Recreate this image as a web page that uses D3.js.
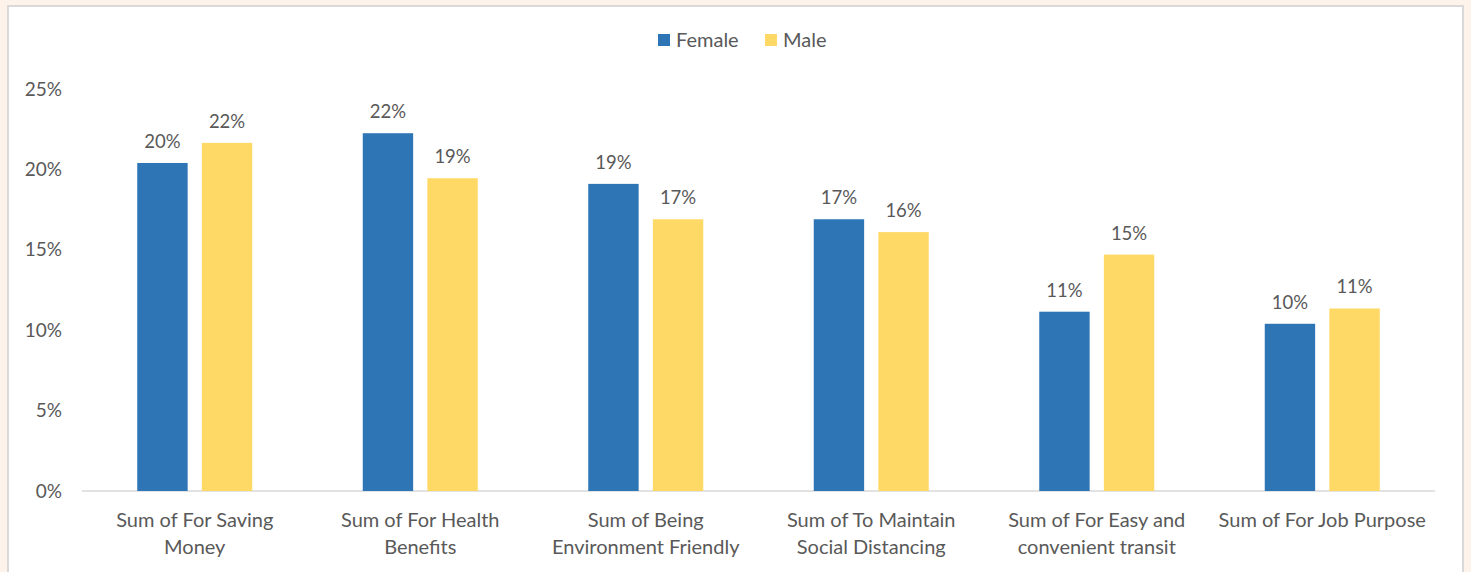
<!DOCTYPE html>
<html>
<head>
<meta charset="utf-8">
<script src="https://cdn.jsdelivr.net/npm/d3@7"></script>
<style>
  body { margin: 0; background: #fdf3ea; }
  svg { display: block; font-family: Lato, "Open Sans", sans-serif; }
</style>
</head>
<body>
<div id="chart"></div>
<script>
// Data
var categories = [
  ["Sum of For Saving", "Money"],
  ["Sum of For Health", "Benefits"],
  ["Sum of Being", "Environment Friendly"],
  ["Sum of To Maintain", "Social Distancing"],
  ["Sum of For Easy and", "convenient transit"],
  ["Sum of For Job Purpose"]
];
var seriesNames = ["Female", "Male"];
var femaleValues = [0.204, 0.2225, 0.191, 0.169, 0.1115, 0.104];
var maleValues = [0.2165, 0.1945, 0.169, 0.161, 0.147, 0.1135];
var yTicks = [0, 0.05, 0.10, 0.15, 0.20, 0.25];

var colors = { Female: "#2e75b6", Male: "#ffd966" };
var textColor = "#595959";

const width = 1471, height = 572;
const margin = { left: 82, right: 36, top: 89, bottom: 81 };
const plotW = width - margin.left - margin.right;
const plotH = height - margin.top - margin.bottom;

const svg = d3.select("#chart")
  .append("svg")
  .attr("width", width)
  .attr("height", height);

// chart box
svg.append("rect")
  .attr("x", 8).attr("y", 6)
  .attr("width", 1455).attr("height", 600)
  .attr("fill", "#ffffff")
  .attr("stroke", "#d9d9d9")
  .attr("stroke-width", 2);

const g = svg.append("g")
  .attr("transform", `translate(${margin.left},${margin.top})`);

const x0 = d3.scaleBand()
  .domain(d3.range(categories.length))
  .range([0, plotW])
  .padding(0);

const pairW = 115;
const x1 = d3.scaleBand()
  .domain(seriesNames)
  .range([0, pairW])
  .paddingInner(0.22);

const y = d3.scaleLinear()
  .domain([0, 0.25])
  .range([plotH, 0]);

// y axis labels
g.append("g")
  .selectAll("text")
  .data(yTicks)
  .enter()
  .append("text")
  .attr("x", -20)
  .attr("y", d => y(d))
  .attr("dy", "0.35em")
  .attr("text-anchor", "end")
  .attr("fill", textColor)
  .style("font-size", "19px")
  .text(d => d3.format(".0%")(d));

// baseline
g.append("line")
  .attr("x1", 0).attr("x2", plotW)
  .attr("y1", y(0)).attr("y2", y(0))
  .attr("stroke", "#d9d9d9")
  .attr("stroke-width", 1.5);

const rows = categories.map((c, i) => ({ i: i, Female: femaleValues[i], Male: maleValues[i] }));

const groups = g.selectAll(".grp")
  .data(rows)
  .enter()
  .append("g")
  .attr("class", "grp")
  .attr("transform", d => `translate(${x0(d.i) + x0.bandwidth() / 2 - pairW / 2},0)`);

groups.selectAll("rect")
  .data(d => seriesNames.map(s => ({ s: s, v: d[s] })))
  .enter()
  .append("rect")
  .attr("x", d => x1(d.s))
  .attr("y", d => y(d.v))
  .attr("width", x1.bandwidth())
  .attr("height", d => y(0) - y(d.v))
  .attr("fill", d => colors[d.s]);

groups.selectAll(".lbl")
  .data(d => seriesNames.map(s => ({ s: s, v: d[s] })))
  .enter()
  .append("text")
  .attr("class", "lbl")
  .attr("x", d => x1(d.s) + x1.bandwidth() / 2)
  .attr("y", d => y(d.v) - 15)
  .attr("text-anchor", "middle")
  .attr("fill", textColor)
  .style("font-size", "18.5px")
  .text(d => d3.format(".0%")(d.v));

// category labels
const catLabels = g.selectAll(".cat")
  .data(categories)
  .enter()
  .append("text")
  .attr("class", "cat")
  .attr("text-anchor", "middle")
  .attr("fill", textColor)
  .style("font-size", "20px")
  .attr("transform", (d, i) => `translate(${x0(i) + x0.bandwidth() / 2},${plotH + 36})`);

catLabels.selectAll("tspan")
  .data(d => d)
  .enter()
  .append("tspan")
  .attr("x", 0)
  .attr("y", (d, i) => i * 27)
  .text(d => d);

// legend
const legend = svg.append("g")
  .attr("transform", "translate(658,40)");

const legendX = [0, 107];
seriesNames.forEach((s, i) => {
  legend.append("rect")
    .attr("x", legendX[i])
    .attr("y", -6)
    .attr("width", 12)
    .attr("height", 12)
    .attr("fill", colors[s]);
  legend.append("text")
    .attr("x", legendX[i] + 18)
    .attr("y", 0)
    .attr("dy", "0.35em")
    .attr("fill", textColor)
    .style("font-size", "20px")
    .text(s);
});
</script>
</body>
</html>
